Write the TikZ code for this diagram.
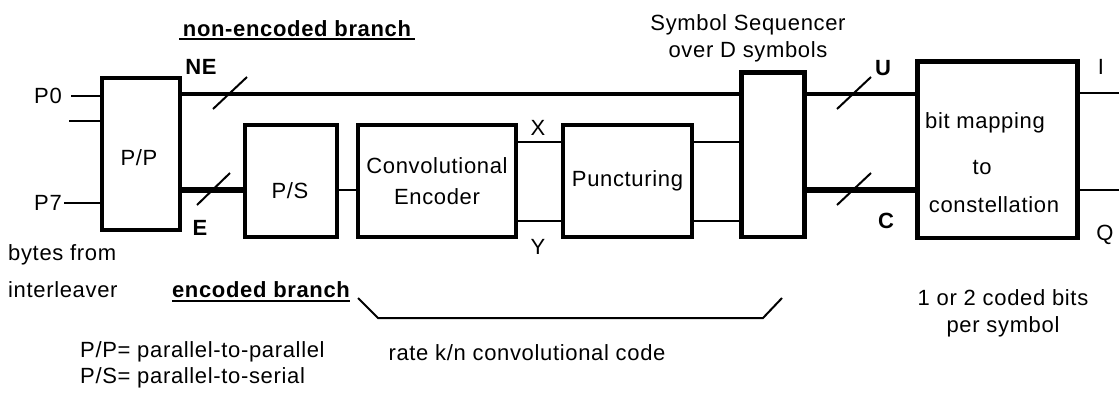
\documentclass[tikz,border=0pt]{standalone}
\usepackage{fontspec}
\setmainfont{Liberation Sans}[LetterSpace=3]
\begin{document}
\begin{tikzpicture}[x=1pt,y=-1pt,
  blk/.style={draw,line width=4.6pt,inner sep=0pt},
  lbl/.style={inner sep=0pt,font=\fontsize{22}{26}\selectfont},
  bl/.style={inner sep=0pt,font=\fontsize{22}{26}\selectfont\bfseries},
  wire/.style={line width=2pt},
  bus/.style={line width=4.6pt},
  fbus/.style={line width=6pt},
  tick/.style={line width=2pt},
  uline/.style={line width=1.5pt}]
\useasboundingbox (0,0) rectangle (1119,392);
% boxes
\node[blk,minimum width=78pt,minimum height=152pt] (pp) at (141,154) {};
\node[blk,minimum width=92pt,minimum height=112pt] (ps) at (291,181) {};
\node[blk,minimum width=158pt,minimum height=112pt,align=center,font=\fontsize{22}{31}\selectfont] (enc) at (437,181) {Convolutional\\Encoder};
\node[blk,minimum width=129pt,minimum height=112pt,font=\fontsize{22}{26}\selectfont] (punc) at (627.5,181) {Puncturing};
\node[blk,minimum width=63pt,minimum height=164.5pt] (seq) at (773,154.75) {};
\node[blk,minimum width=160pt,minimum height=176.5pt] (map) at (997.5,149.75) {};
% box texts
\node[lbl] (pptxt) at (139,158) {P/P};
\node[lbl] (pstxt) at (290,191) {P/S};
\node[lbl] (maptxt1) at (985,123) {bit mapping};
\node[lbl] (maptxt2) at (982,167) {to};
\node[lbl] (maptxt3) at (994,205) {constellation};
% levels
\coordinate (yNE) at (0,94);
\coordinate (yE) at (0,190);
\coordinate (yX) at (0,142);
\coordinate (yY) at (0,221);
\coordinate (yI) at (0,93);
% inputs
\node[lbl] (p0) at (48,96) {P0};
\node[lbl] (p7) at (48,203) {P7};
\coordinate (in0) at (71,96);
\coordinate (in1) at (69,120.5);
\coordinate (in7) at (64,203);
\draw[wire] (in0) -- (in0 -| pp.west);
\draw[wire] (in1) -- (in1 -| pp.west);
\draw[wire] (in7) -- (in7 -| pp.west);
% branches
\draw[bus] (pp.east |- yNE) -- (seq.west |- yNE);
\draw[fbus] (pp.east |- yE) -- (ps.west |- yE);
\draw[wire] (ps.east |- yE) -- (enc.west |- yE);
\draw[wire] (enc.east |- yX) -- (punc.west |- yX);
\draw[wire] (enc.east |- yY) -- (punc.west |- yY);
\draw[wire] (punc.east |- yX) -- (seq.west |- yX);
\draw[wire] (punc.east |- yY) -- (seq.west |- yY);
\draw[bus] (seq.east |- yNE) -- (map.west |- yNE);
\draw[fbus] (seq.east |- yE) -- (map.west |- yE);
\coordinate (outI) at (1119,93);
\coordinate (outQ) at (1119,190);
\draw[wire] (map.east |- outI) -- (outI);
\draw[wire] (map.east |- outQ) -- (outQ);
% bus ticks
\draw[tick] (213,109) -- (247,77);
\draw[tick] (197,205) -- (230,173);
\draw[tick] (837,109) -- (871,77);
\draw[tick] (837,205) -- (871,173);
% labels
\node[bl] (ne) at (201,67) {NE};
\node[bl] (e) at (200,228) {E};
\node[bl] (u) at (883,68) {U};
\node[bl] (c) at (886,221) {C};
\node[lbl] (x) at (538,128) {X};
\node[lbl] (y) at (538,247) {Y};
\node[lbl] (i) at (1101,67) {I};
\node[lbl] (q) at (1105,235) {Q};
\node[lbl,align=center,font=\fontsize{22}{27}\selectfont] (seqtxt) at (748,38) {Symbol Sequencer\\over D symbols};
\node[bl] (nebr) at (297,29) {non-encoded branch};
\draw[uline] (179,39) -- (415,39);
\node[bl] (ebr) at (261,290) {encoded branch};
\draw[uline] (172,301) -- (350,301);
\node[lbl,align=left,anchor=west,font=\fontsize{22}{37}\selectfont] (bytes) at (8,271.5) {bytes from\\interleaver};
\node[lbl,align=left,anchor=west,font=\fontsize{22}{26}\selectfont] (legend) at (80,365) {P/P= parallel-to-parallel\\P/S= parallel-to-serial};
\node[lbl] (rate) at (527,353) {rate k/n convolutional code};
\node[lbl,align=center,font=\fontsize{22}{27}\selectfont] (bits) at (1003,313.5) {1 or 2 coded bits\\per symbol};
% brace
\draw[wire] (358,298) -- (378,318) -- (763,318) -- (782,298);
\end{tikzpicture}
\end{document}
